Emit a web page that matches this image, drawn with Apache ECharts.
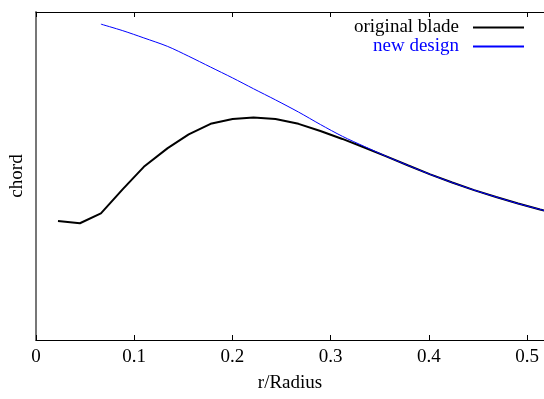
<!DOCTYPE html>
<html>
<head>
<meta charset="utf-8">
<script src="https://cdn.jsdelivr.net/npm/echarts@6/dist/echarts.min.js"></script>
<style>
  html, body { margin: 0; padding: 0; background: #fff; }
  #chart { width: 544px; height: 399px; }
</style>
</head>
<body>
<div id="chart"></div>
<script>
// r/Radius stations
var rR = [0.0224, 0.0447, 0.0661, 0.0884, 0.1098, 0.1341, 0.1555, 0.1778, 0.2002, 0.2215,
  0.2439, 0.2673, 0.2896, 0.3120, 0.3344, 0.3567, 0.3791, 0.4014, 0.4238, 0.4461,
  0.4685, 0.4909, 0.5132, 0.5356];
// chord, arbitrary units (axis has no labels)
var chordOriginal = [0.363, 0.356, 0.386, 0.460, 0.528, 0.585, 0.627, 0.659, 0.674, 0.678,
  0.674, 0.659, 0.637, 0.613, 0.587, 0.560, 0.532, 0.505, 0.480, 0.457,
  0.436, 0.416, 0.398, 0.381];
var chordNew = [null, null, 0.963, 0.943, 0.921, 0.895, 0.865, 0.832, 0.799, 0.766,
  0.732, 0.695, 0.657, 0.621, 0.590, 0.560, 0.532, 0.505, 0.480, 0.457,
  0.436, 0.416, 0.398, 0.381];
var xTicks = [0, 0.1, 0.2, 0.3, 0.4, 0.5];

var font = "'Liberation Serif', 'DejaVu Serif', serif";

function pairs(xs, ys) {
  var out = [];
  for (var i = 0; i < xs.length; i++) {
    if (ys[i] != null) out.push([xs[i], ys[i]]);
  }
  return out;
}

var chart = echarts.init(document.getElementById("chart"));
var option = {
  animation: false,
  textStyle: { fontFamily: font },
  grid: { left: 35, right: 0, top: 12, bottom: 59 },
  legend: {
    orient: "vertical",
    right: 19,
    top: 18,
    padding: 0,
    align: "right",
    itemWidth: 51,
    itemHeight: 14,
    itemGap: 0,
    itemStyle: { opacity: 0 },
    textStyle: { fontFamily: font, fontSize: 19, lineHeight: 19, padding: [0, 9, 0, 0] },
    data: [
      { name: "original blade", textStyle: { color: "#000" } },
      { name: "new design", textStyle: { color: "#0000ff" } }
    ]
  },
  xAxis: [
    {
      type: "value",
      min: 0,
      max: 0.5173,
      position: "bottom",
      name: "r/Radius",
      nameLocation: "middle",
      nameGap: 34,
      nameTextStyle: { fontFamily: font, fontSize: 19, color: "#000" },
      axisLine: { lineStyle: { color: "#000", width: 1 } },
      axisTick: { inside: true, length: 5, customValues: xTicks, lineStyle: { color: "#000" } },
      axisLabel: { customValues: xTicks, margin: 8, fontSize: 19, color: "#000", fontFamily: font },
      splitLine: { show: false }
    },
    {
      type: "value",
      min: 0,
      max: 0.5173,
      position: "top",
      axisLine: { lineStyle: { color: "#000", width: 1 } },
      axisTick: { inside: true, length: 5, customValues: xTicks, lineStyle: { color: "#000" } },
      axisLabel: { show: false },
      splitLine: { show: false }
    }
  ],
  yAxis: {
    type: "value",
    min: 0,
    max: 1,
    name: "chord",
    nameLocation: "middle",
    nameGap: 9,
    nameTextStyle: { fontFamily: font, fontSize: 19, color: "#000" },
    axisLine: { show: true, lineStyle: { color: "#777", width: 2 } },
    axisTick: { show: false },
    axisLabel: { show: false },
    splitLine: { show: false }
  },
  series: [
    {
      name: "original blade",
      type: "line",
      symbol: "none",
      data: pairs(rR, chordOriginal),
      lineStyle: { color: "#000", width: 2 },
      itemStyle: { color: "#000" }
    },
    {
      name: "new design",
      type: "line",
      symbol: "none",
      smooth: 0.3,
      data: pairs(rR, chordNew),
      lineStyle: { color: "#0000ff", width: 1 },
      itemStyle: { color: "#0000ff" }
    }
  ]
};
chart.setOption(option);
</script>
</body>
</html>
